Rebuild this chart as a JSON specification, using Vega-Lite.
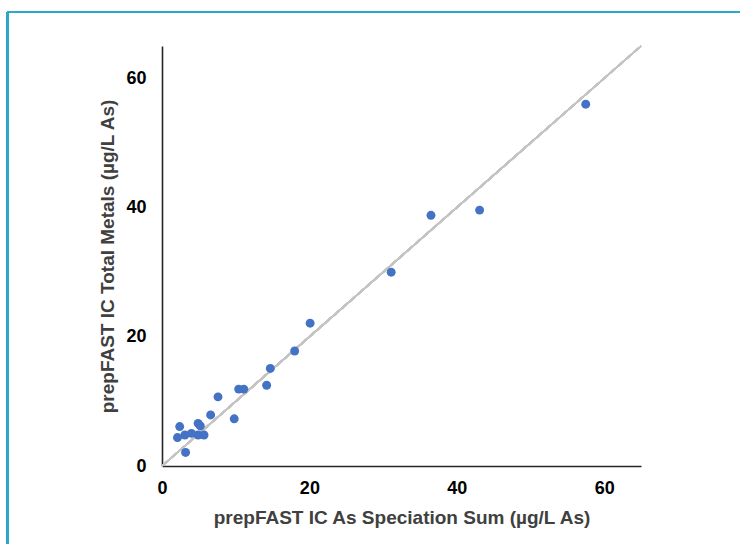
{
  "$schema": "https://vega.github.io/schema/vega-lite/v6.json",
  "autosize": {"type": "none"},
  "width": 479,
  "height": 420,
  "padding": {"left": 162, "top": 46, "right": 99, "bottom": 78},
  "background": "#ffffff",
  "config": {
    "view": {"stroke": null},
    "font": "Liberation Sans"
  },
  "data": {
    "values": [
      {"speciation": 57.5, "total": 56.0},
      {"speciation": 43.1, "total": 39.6},
      {"speciation": 36.5, "total": 38.8},
      {"speciation": 31.1, "total": 30.0},
      {"speciation": 20.1, "total": 22.1},
      {"speciation": 18.0, "total": 17.8},
      {"speciation": 14.7, "total": 15.1},
      {"speciation": 14.2, "total": 12.5},
      {"speciation": 10.4, "total": 11.9},
      {"speciation": 11.1, "total": 11.9},
      {"speciation": 7.6, "total": 10.7},
      {"speciation": 9.8, "total": 7.3},
      {"speciation": 6.6, "total": 7.9},
      {"speciation": 4.9, "total": 6.6},
      {"speciation": 5.2, "total": 6.2},
      {"speciation": 2.4, "total": 6.1},
      {"speciation": 2.1, "total": 4.4},
      {"speciation": 3.1, "total": 4.8},
      {"speciation": 4.0, "total": 5.05},
      {"speciation": 4.9, "total": 4.8},
      {"speciation": 5.7, "total": 4.8},
      {"speciation": 3.2, "total": 2.1}
    ]
  },
  "layer": [
    {
      "mark": {"type": "rule", "color": "#2aa8c9", "strokeWidth": 2, "clip": false},
      "encoding": {
        "x": {"datum": -21.0, "type": "quantitative", "scale": {"domain": [0, 65]}},
        "y": {"datum": 70.26, "type": "quantitative"},
        "y2": {"datum": -20}
      }
    },
    {
      "mark": {"type": "rule", "color": "#2aa8c9", "strokeWidth": 2, "clip": false},
      "encoding": {
        "x": {"datum": -21.0, "type": "quantitative"},
        "x2": {"datum": 90},
        "y": {"datum": 70.26, "type": "quantitative"}
      }
    },
    {
      "mark": {"type": "rule", "color": "#c4c4c4", "strokeWidth": 1.6},
      "encoding": {
        "x": {"datum": 0, "type": "quantitative"},
        "y": {"datum": 0, "type": "quantitative"},
        "x2": {"datum": 65},
        "y2": {"datum": 65}
      }
    },
    {
      "mark": {"type": "circle", "color": "#4472c4", "opacity": 1, "size": 80},
      "encoding": {
        "x": {
          "field": "speciation",
          "type": "quantitative",
          "scale": {"domain": [0, 65], "nice": false},
          "axis": {
            "title": "prepFAST IC As Speciation Sum (µg/L As)",
            "values": [0, 20, 40, 60],
            "ticks": false,
            "grid": false,
            "domainColor": "#262626",
            "domainWidth": 1.6,
            "labelFont": "Liberation Sans",
            "labelFontSize": 18,
            "labelFontWeight": "bold",
            "labelColor": "#000000",
            "labelPadding": 13,
            "labelFlush": false,
            "titleFont": "Liberation Sans",
            "titleFontSize": 19,
            "titleFontWeight": "bold",
            "titleColor": "#404040",
            "titlePadding": 11
          }
        },
        "y": {
          "field": "total",
          "type": "quantitative",
          "scale": {"domain": [0, 65], "nice": false},
          "axis": {
            "title": "prepFAST IC Total Metals (µg/L As)",
            "values": [0, 20, 40, 60],
            "ticks": false,
            "grid": false,
            "domainColor": "#262626",
            "domainWidth": 1.6,
            "labelFont": "Liberation Sans",
            "labelFontSize": 18,
            "labelFontWeight": "bold",
            "labelColor": "#000000",
            "labelPadding": 16,
            "labelFlush": false,
            "titleFont": "Liberation Sans",
            "titleFontSize": 19,
            "titleFontWeight": "bold",
            "titleColor": "#404040",
            "titlePadding": 8
          }
        }
      }
    }
  ]
}
